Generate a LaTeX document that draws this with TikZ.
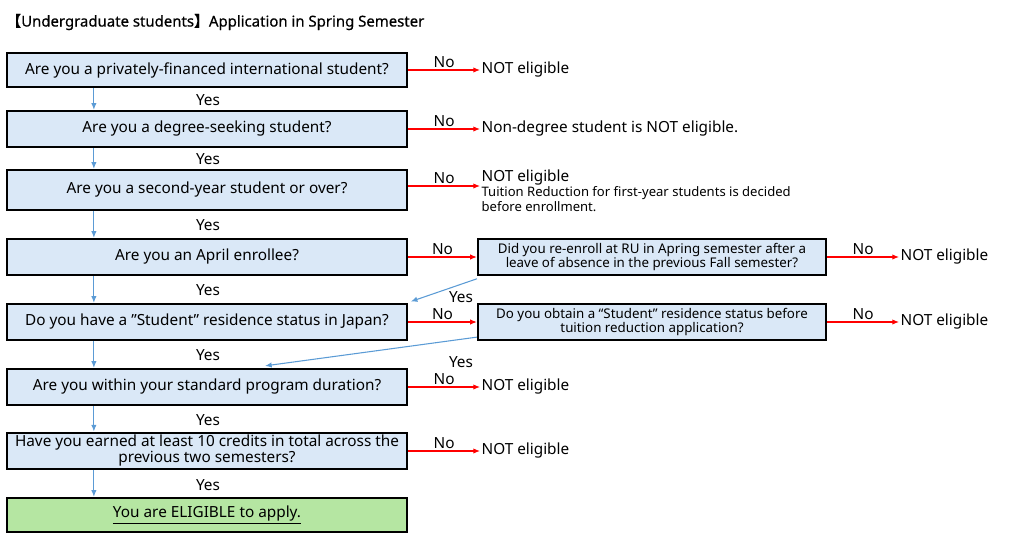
\documentclass[tikz,border=0pt]{standalone}
\usepackage{fontspec}
\setmainfont{Noto Sans}
\newfontfamily\cjk[FakeBold=0.5]{Noto Sans CJK JP}
\newfontfamily\titlefont[FakeBold=0.5]{Noto Sans}
\usetikzlibrary{arrows.meta,positioning}
\definecolor{qfill}{HTML}{DAE8F7}
\definecolor{okfill}{HTML}{B5E6A2}
\definecolor{yesline}{HTML}{5B9BD5}

\begin{document}
\begin{tikzpicture}[
  x=0.75pt, y=-0.75pt, font=\fontsize{11.5}{12}\selectfont,
  q/.style={draw, line width=1.7pt, fill=qfill, minimum width=300pt,
    minimum height=27pt, align=center, inner sep=2pt},
  sq/.style={q, minimum width=261pt, font=\fontsize{10}{9.8}\selectfont},
  ok/.style={q, fill=okfill},
  res/.style={anchor=west, inner sep=1pt, align=left},
  lab/.style={inner sep=1pt, text=black},
  yes/.style={-{Latex[length=5pt,width=4pt]}, yesline, line width=0.8pt},
  no/.style={-{Latex[length=5pt,width=4pt]}, red, line width=0.8pt}]
  \useasboundingbox (0,0) rectangle (1013,546);
  \node[anchor=west, inner sep=0pt, font=\fontsize{11.2}{12}\titlefont] (title) at (6,22)
    {{\cjk 【}Undergraduate students{\cjk 】}Application in Spring Semester};

  % main questions
  \node[q, minimum height=25.5pt] (q1) at (207,70) {Are you a privately-financed international student?};
  \node[q] (q2) at (207,129) {Are you a degree-seeking student?};
  \node[q, minimum height=30pt] (q3) at (207,190) {Are you a second-year student or over?};
  \node[q] (q4) at (207,257) {Are you an April enrollee?};
  \node[q] (q5) at (207,322) {Do you have a ”Student” residence status in Japan?};
  \node[q] (q6) at (207,387) {Are you within your standard program duration?};
  \node[q] (q7) at (207,451) {Have you earned at least 10 credits in total across the\\previous two semesters?};
  \node[ok, minimum height=25.5pt] (ok) at (207,515) {\underline{You are ELIGIBLE to apply.}};

  % side questions
  \node[sq] (sA) at (652,257) {Did you re-enroll at RU in Apring semester after a\\leave of absence in the previous Fall semester?};
  \node[sq] (sB) at (652,322) {Do you obtain a “Student” residence status before\\tuition reduction application?};

  % outcomes
  \node[res] (n1) at (480,70) {NOT eligible};
  \node[res] (n2) at (480,129) {Non-degree student is NOT eligible.};
  \node[res] (n3) at (480,178) {NOT eligible};
  \node[res, anchor=north west, font=\fontsize{9.8}{9.8}\selectfont] (n3b) at ([yshift=1.5pt]n3.south west)
    {Tuition Reduction for first-year students is decided\\before enrollment.};
  \node[res] (nA) at (899,257) {NOT eligible};
  \node[res] (nB) at (899,322) {NOT eligible};
  \node[res] (n6) at (480,387) {NOT eligible};
  \node[res] (n7) at (480,451) {NOT eligible};

  % yes
  \draw[yes] ([xshift=66pt]q1.south west) -- ([xshift=66pt]q2.north west);
  \draw[yes] ([xshift=66pt]q2.south west) -- ([xshift=66pt]q3.north west);
  \draw[yes] ([xshift=66pt]q3.south west) -- ([xshift=66pt]q4.north west);
  \draw[yes] ([xshift=66pt]q4.south west) -- ([xshift=66pt]q5.north west);
  \draw[yes] ([xshift=66pt]q5.south west) -- ([xshift=66pt]q6.north west);
  \draw[yes] ([xshift=66pt]q6.south west) -- ([xshift=66pt]q7.north west);
  \draw[yes] ([xshift=66pt]q7.south west) -- ([xshift=66pt]ok.north west);
  \node[lab] (y1) at (208,100) {Yes};
  \node[lab] (y2) at (208,159) {Yes};
  \node[lab] (y3) at (208,225) {Yes};
  \node[lab] (y4) at (208,290) {Yes};
  \node[lab] (y5) at (208,355) {Yes};
  \node[lab] (y6) at (208,420) {Yes};
  \node[lab] (y7) at (208,485) {Yes};
  \draw[yes] ([yshift=-2pt]sA.south west) -- ([xshift=2pt,yshift=1pt]q5.north east);
  \node[lab] (yA) at (461,297) {Yes};
  \draw[yes] ([yshift=3pt]sB.south west) -- ([xshift=43.5pt,yshift=1.5pt]q6.north);
  \node[lab] (yB) at (461,362) {Yes};

  % no
  \draw[no] (q1.east) -- node[above, lab]{No} (n1.west);
  \draw[no] (q2.east) -- node[above, lab]{No} (n2.west);
  \draw[no] ([yshift=3pt]q3.east) -- node[above, lab]{No} ([yshift=3pt]q3.east -| n3.west);
  \draw[no] (q4.east) -- node[above, lab]{No} (sA.west);
  \draw[no] (sA.east) -- node[above, lab]{No} (nA.west);
  \draw[no] (q5.east) -- node[above, lab]{No} (sB.west);
  \draw[no] (sB.east) -- node[above, lab]{No} (nB.west);
  \draw[no] (q6.east) -- node[above, lab]{No} (n6.west);
  \draw[no] (q7.east) -- node[above, lab]{No} (n7.west);
\end{tikzpicture}
\end{document}
